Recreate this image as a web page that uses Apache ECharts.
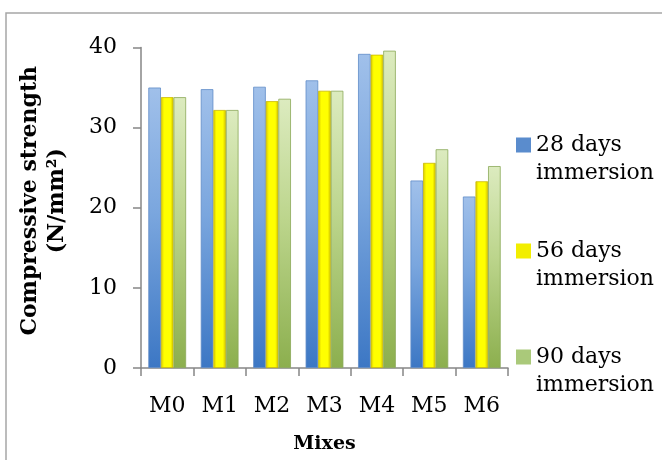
<!DOCTYPE html>
<html>
<head>
<meta charset="utf-8">
<script src="https://cdn.jsdelivr.net/npm/echarts@6/dist/echarts.min.js"></script>
<style>
  html, body { margin: 0; padding: 0; background: #ffffff; }
  #chart { width: 662px; height: 460px; }
</style>
</head>
<body>
<div id="chart"></div>
<script>
// Compressive strength of the mixes after different immersion periods
const mixes = ['M0', 'M1', 'M2', 'M3', 'M4', 'M5', 'M6'];
const seriesNames = ['28 days\nimmersion', '56 days\nimmersion', '90 days\nimmersion'];
const days28 = [35.0, 34.8, 35.1, 35.9, 39.2, 23.4, 21.4];
const days56 = [33.8, 32.2, 33.3, 34.6, 39.1, 25.6, 23.3];
const days90 = [33.8, 32.2, 33.6, 34.6, 39.6, 27.3, 25.2];
const yTicks = { min: 0, max: 40, interval: 10 };

const FONT = 'DejaVu Serif';

function vGrad(top, mid, bottom) {
  return new echarts.graphic.LinearGradient(0, 0, 0, 1, [
    { offset: 0, color: top },
    { offset: 0.45, color: mid },
    { offset: 1, color: bottom }
  ]);
}
function hGrad(edgeL, center, edgeR) {
  return new echarts.graphic.LinearGradient(0, 0, 1, 0, [
    { offset: 0, color: edgeL },
    { offset: 0.25, color: center },
    { offset: 0.75, color: center },
    { offset: 1, color: edgeR }
  ]);
}

const fills = [
  vGrad('#a0c0ea', '#7aa6de', '#3c77c4'),
  hGrad('#d6c600', '#ffff00', '#cfc000'),
  vGrad('#dcebbf', '#bcd58c', '#8caf4e')
];
const borders = ['#5f8cc8', '#c9b800', '#8aa858'];
const legendFills = ['#5a8ccd', '#f2ee00', '#aac97a'];
const values = [days28, days56, days90];

// Legend swatch sits beside the first line of its two-line label:
// a 15px square at the top of a taller, otherwise empty icon box.
const swatchIcon = 'path://M0,0L15,0L15,15L0,15Z M0,43L0.01,43';

const chart = echarts.init(document.getElementById('chart'), null, { renderer: 'canvas' });

chart.setOption({
  backgroundColor: '#ffffff',
  animation: false,
  graphic: [{
    type: 'rect',
    shape: { x: 6, y: 13, width: 720, height: 520 },
    style: { fill: 'none', stroke: '#a6a6a6', lineWidth: 1.5 },
    silent: true,
    z: -1
  }],
  grid: { left: 141, right: 154, top: 47.5, bottom: 92 },
  legend: {
    orient: 'vertical',
    left: 516,
    top: 131,
    padding: 0,
    itemWidth: 15,
    itemHeight: 43,
    itemGap: 50,
    data: seriesNames.map((n, i) => ({
      name: n,
      icon: swatchIcon,
      itemStyle: { color: legendFills[i], borderWidth: 0 }
    })),
    textStyle: {
      fontFamily: FONT,
      fontSize: 22,
      color: '#000000',
      lineHeight: 28
    }
  },
  xAxis: {
    type: 'category',
    data: mixes,
    name: 'Mixes',
    nameLocation: 'middle',
    nameGap: 67,
    nameTextStyle: { fontFamily: FONT, fontSize: 19, fontWeight: 'bold', color: '#000000' },
    axisLine: { lineStyle: { color: '#868686', width: 1.5 } },
    axisTick: { show: true, length: 8, lineStyle: { color: '#868686', width: 1.5 } },
    axisLabel: { fontFamily: FONT, fontSize: 22, color: '#000000', margin: 27 }
  },
  yAxis: {
    type: 'value',
    min: yTicks.min,
    max: yTicks.max,
    interval: yTicks.interval,
    name: 'Compressive strength\n(N/mm²)',
    nameLocation: 'middle',
    nameRotate: 90,
    nameGap: 70,
    nameTextStyle: {
      fontFamily: FONT, fontSize: 22, fontWeight: 'bold', color: '#000000',
      lineHeight: 27, padding: [0, 0, 0, 14]
    },
    axisLine: { show: true, lineStyle: { color: '#868686', width: 1.5 } },
    axisTick: { show: true, length: 8, lineStyle: { color: '#868686', width: 1.5 } },
    axisLabel: { fontFamily: FONT, fontSize: 22, color: '#000000', margin: 24 },
    splitLine: { show: false }
  },
  series: seriesNames.map((name, i) => ({
    name: name,
    type: 'bar',
    data: values[i],
    barGap: '0%',
    barCategoryGap: '28%',
    itemStyle: { color: fills[i], borderColor: borders[i], borderWidth: 0.8 }
  }))
});
</script>
</body>
</html>
